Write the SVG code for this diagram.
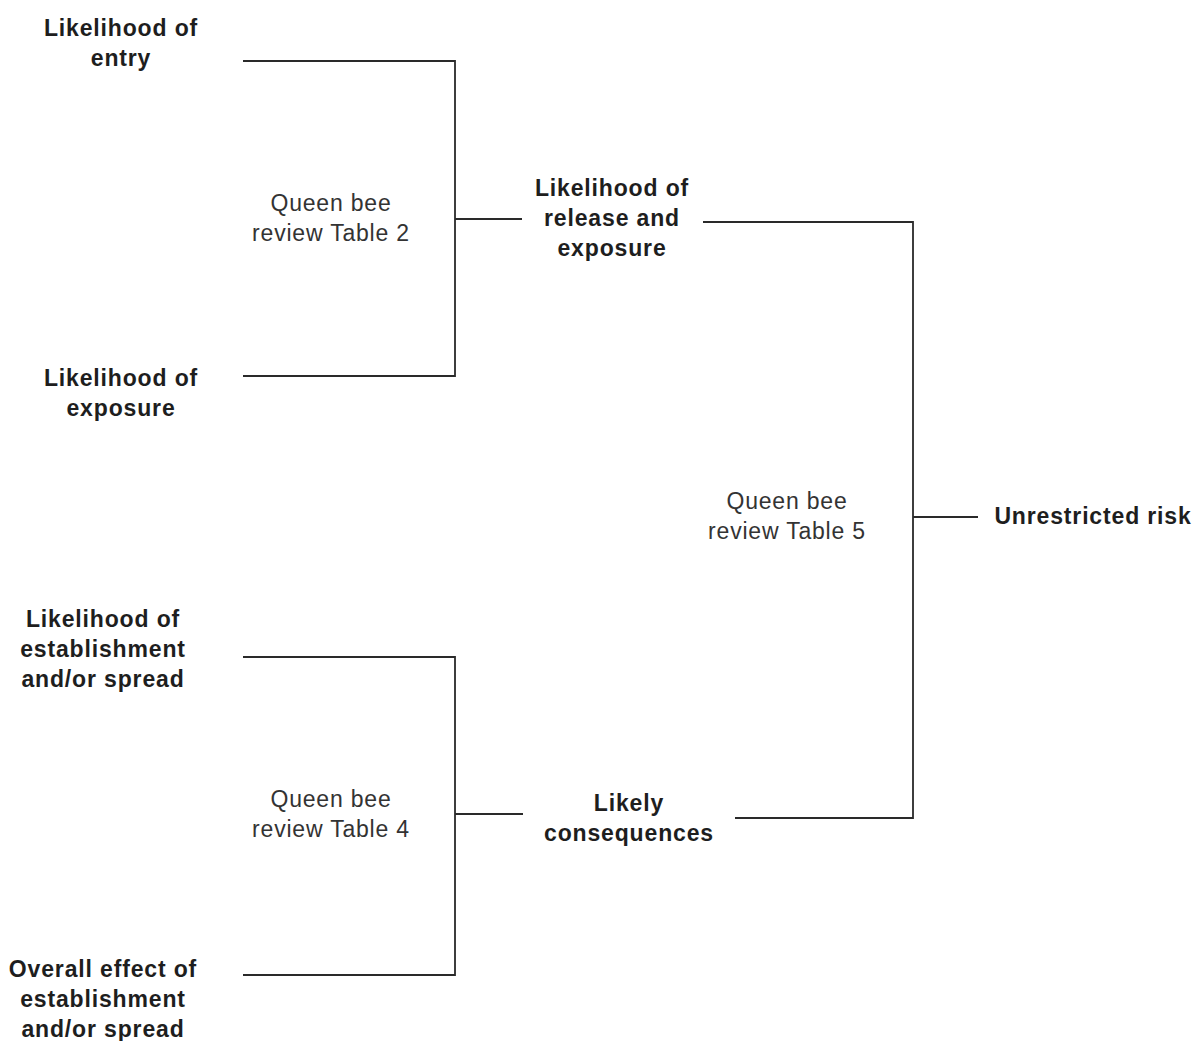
<svg xmlns="http://www.w3.org/2000/svg" width="1201" height="1041" viewBox="0 0 1201 1041">
<style>
text{font-family:"Liberation Sans",Arial,sans-serif;font-size:23px;letter-spacing:0.85px;text-anchor:middle}
.b{font-weight:bold;fill:#1e1e1e}
.r{fill:#333;letter-spacing:0.8px}
.c{fill:none;stroke:#2a2a2a;stroke-width:1.8}
</style>
<rect width="1201" height="1041" fill="#fff"/>
<g id="connectors">
<path class="c" d="M243 61H455V376H243M455 219H522"/>
<path class="c" d="M703 222H913V818H735M913 517H978"/>
<path class="c" d="M243 657H455V975H243M455 814H523"/>
</g>
<g id="n-entry"><text class="b" x="121" y="36">Likelihood of</text><text class="b" x="121" y="66">entry</text></g>
<g id="n-table2"><text class="r" x="331" y="211">Queen bee</text><text class="r" x="331" y="241">review Table 2</text></g>
<g id="n-release"><text class="b" x="612" y="196">Likelihood of</text><text class="b" x="612" y="226">release and</text><text class="b" x="612" y="256">exposure</text></g>
<g id="n-exposure"><text class="b" x="121" y="386">Likelihood of</text><text class="b" x="121" y="416">exposure</text></g>
<g id="n-table5"><text class="r" x="787" y="509">Queen bee</text><text class="r" x="787" y="539">review Table 5</text></g>
<g id="n-risk"><text class="b" x="1093" y="524">Unrestricted risk</text></g>
<g id="n-establish"><text class="b" x="103" y="627">Likelihood of</text><text class="b" x="103" y="657">establishment</text><text class="b" x="103" y="687">and/or spread</text></g>
<g id="n-table4"><text class="r" x="331" y="807">Queen bee</text><text class="r" x="331" y="837">review Table 4</text></g>
<g id="n-consequences"><text class="b" x="629" y="811">Likely</text><text class="b" x="629" y="841">consequences</text></g>
<g id="n-effect"><text class="b" x="103" y="977">Overall effect of</text><text class="b" x="103" y="1007">establishment</text><text class="b" x="103" y="1037">and/or spread</text></g>
</svg>
